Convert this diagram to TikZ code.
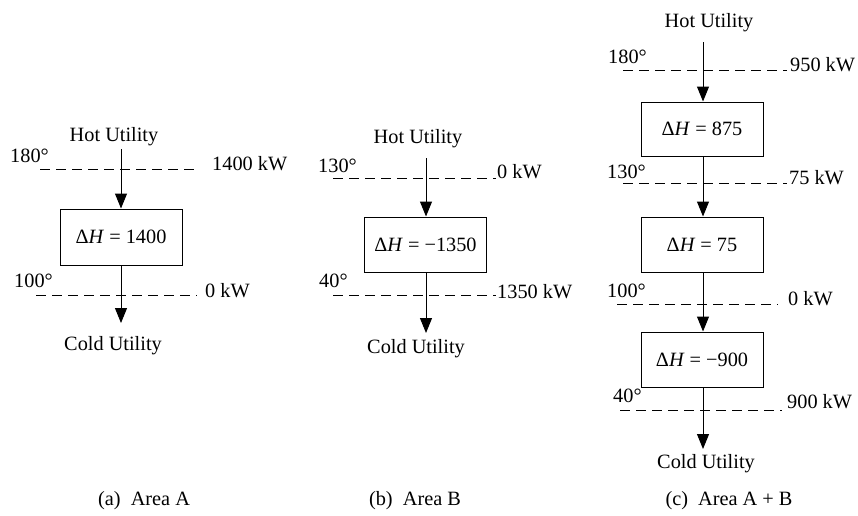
\documentclass[tikz,border=0pt]{standalone}
\usepackage{fontspec}
\setmainfont{Liberation Serif}
\usetikzlibrary{arrows.meta}
\begin{document}
\begin{tikzpicture}[x=1pt,y=-1pt,
  every node/.style={font=\fontsize{20.3}{22}\selectfont, inner sep=0pt},
  lbl/.style={anchor=base west},
  ttl/.style={anchor=base},
  hbox/.style={draw, line width=1pt, minimum width=122pt, minimum height=55pt},
  flow/.style={line width=1pt, -{Triangle[width=12pt,length=15pt]}},
  dline/.style={line width=0.9pt, dash pattern=on 10pt off 6pt}]
\useasboundingbox (0,0) rectangle (858,515);
\fill[white] (0,0) rectangle (858,515);

% ---------- (a) Area A ----------
\node[ttl] (hotA) at (114,141) {Hot Utility};
\node[hbox, minimum height=56pt] (boxA) at (121,237) {Δ\textit{H} = 1400};
\node[ttl] (coldA) at (113,350) {Cold Utility};
\coordinate (sA) at (121,149);
\coordinate (tA) at (121,323);
\draw[flow] (sA) -- (boxA.north);
\draw[flow] (boxA.south) -- (tA);
\node[lbl] (tA1) at (10,162) {180°};
\coordinate (dA1l) at (40,169); \coordinate (dA1r) at (200,169);
\draw[dline] (dA1l) -- (dA1r);
\node[lbl] (qA1) at (212,170) {1400 kW};
\node[lbl] (tA2) at (14,287) {100°};
\coordinate (dA2l) at (36,295); \coordinate (dA2r) at (197,295);
\draw[dline] (dA2l) -- (dA2r);
\node[lbl] (qA2) at (205,297) {0 kW};
\node[ttl] (capA) at (144,505) {(a)\ \ Area A};

% ---------- (b) Area B ----------
\node[ttl] (hotB) at (418,143) {Hot Utility};
\node[hbox] (boxB) at (425.5,244.5) {Δ\textit{H} = −1350};
\node[ttl] (coldB) at (416,353) {Cold Utility};
\coordinate (sB) at (426,158);
\coordinate (tB) at (426,333);
\draw[flow] (sB) -- (sB |- boxB.north);
\draw[flow] (sB |- boxB.south) -- (tB);
\node[lbl] (tB1) at (318,172) {130°};
\coordinate (dB1l) at (333,178); \coordinate (dB1r) at (496,178);
\draw[dline] (dB1l) -- (dB1r);
\node[lbl] (qB1) at (497,178) {0 kW};
\node[lbl] (tB2) at (319,287) {40°};
\coordinate (dB2l) at (333,295); \coordinate (dB2r) at (496,295);
\draw[dline] (dB2l) -- (dB2r);
\node[lbl] (qB2) at (497,298) {1350 kW};
\node[ttl] (capB) at (415,505) {(b)\ \ Area B};

% ---------- (c) Area A + B ----------
\node[ttl] (hotC) at (709,27) {Hot Utility};
\node[hbox, minimum height=54pt] (boxC1) at (702,129) {Δ\textit{H} = 875};
\node[hbox] (boxC2) at (702,244.5) {Δ\textit{H} = 75};
\node[hbox] (boxC3) at (702,359.5) {Δ\textit{H} = −900};
\node[ttl] (coldC) at (706,468) {Cold Utility};
\coordinate (sC) at (703,42);
\coordinate (tC) at (703,449);
\draw[flow] (sC) -- (sC |- boxC1.north);
\draw[flow] (sC |- boxC1.south) -- (sC |- boxC2.north);
\draw[flow] (sC |- boxC2.south) -- (sC |- boxC3.north);
\draw[flow] (sC |- boxC3.south) -- (tC);
\node[lbl] (tC1) at (608,63) {180°};
\coordinate (dC1l) at (623,70); \coordinate (dC1r) at (787,70);
\draw[dline] (dC1l) -- (dC1r);
\node[lbl] (qC1) at (790,71) {950 kW};
\node[lbl] (tC2) at (607,178) {130°};
\coordinate (dC2l) at (623,183); \coordinate (dC2r) at (787,183);
\draw[dline] (dC2l) -- (dC2r);
\node[lbl] (qC2) at (789,184) {75 kW};
\node[lbl] (tC3) at (607,297) {100°};
\coordinate (dC3l) at (617,304); \coordinate (dC3r) at (778,304);
\draw[dline] (dC3l) -- (dC3r);
\node[lbl] (qC3) at (788,305) {0 kW};
\node[lbl] (tC4) at (613,402) {40°};
\coordinate (dC4l) at (620,410); \coordinate (dC4r) at (782,410);
\draw[dline] (dC4l) -- (dC4r);
\node[lbl] (qC4) at (787,408) {900 kW};
\node[ttl] (capC) at (729,505) {(c)\ \ Area A + B};
\end{tikzpicture}
\end{document}
